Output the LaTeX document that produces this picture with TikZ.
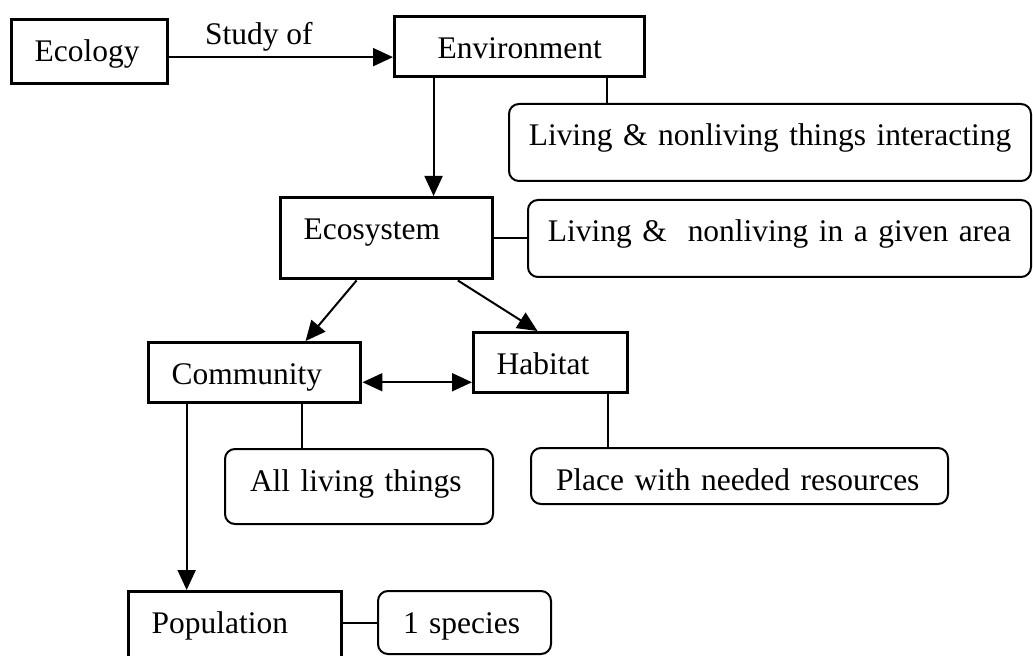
\documentclass[tikz,border=0pt]{standalone}
\usepackage{fontspec}
\setmainfont{Liberation Serif}
\usetikzlibrary{arrows.meta,calc}

\begin{document}
\begin{tikzpicture}[
    x=0.75pt, y=-0.75pt,
    font=\fontsize{23.6}{28}\selectfont,
    concept/.style={draw, line width=2.6pt, anchor=north west, align=left,
        inner xsep=17.25pt, inner ysep=9pt, text height=22.5pt},
    note/.style={draw, line width=1.5pt, rounded corners=7.5pt, anchor=north west,
        align=left, inner xsep=18.75pt, inner ysep=9pt, text height=22.5pt},
    link/.style={-, line width=1.5pt},
    arrow link/.style={link, -{Triangle[length=15pt, width=13.5pt]}},
    both link/.style={link, {Triangle[length=15pt, width=13.5pt]}-{Triangle[length=15pt, width=13.5pt]}},
    link label/.style={inner sep=0pt}
]

\useasboundingbox (0,0) rectangle (1033,656);

% Concepts
\node[concept, text width=82.5pt, text depth=7.5pt] (ecology) at (10,18) {Ecology};
\node[concept, align=center, text width=153pt, text depth=4.5pt] (environment) at (393,15) {Environment};
\node[concept, text width=124.5pt, text depth=20.25pt] (ecosystem) at (279,196) {Ecosystem};
\node[concept, text width=124.5pt, text depth=4.5pt] (community) at (147,341) {Community};
\node[concept, text width=81pt, text depth=4.5pt] (habitat) at (472,331) {Habitat};
\node[concept, text width=125.25pt, text depth=19.5pt] (population) at (127,590) {Population};

% Notes
\node[note, align=center, inner xsep=8pt, text width=375.5pt, text depth=17.25pt] (interacting) at (508,103) {Living \& nonliving things interacting};
\node[note, align=center, inner xsep=8pt, text width=361.25pt, text depth=17.25pt] (givenarea) at (527,199) {Living \&\ \ nonliving in a given area};
\node[note, text width=163.5pt, text depth=15.75pt] (allliving) at (224,448) {All living things};
\node[note, text width=275.25pt, text depth=1.5pt] (place) at (530,447) {Place with needed resources};
\node[note, text width=92.25pt, text depth=6.75pt] (species) at (377,590) {1 species};

% Ecology to Environment
\coordinate (studystart) at ($(ecology.north east)!.58!(ecology.south east)$);
\draw[arrow link] (studystart) -- (studystart -| environment.west)
    node[link label, pos=.4, above=4pt] (studyof) {Study of};

% Environment
\coordinate (envdown) at ($(environment.south west)!.16!(environment.south east)$);
\draw[arrow link] (envdown) -- (envdown |- ecosystem.north);
\coordinate (envnote) at ($(environment.south west)!.844!(environment.south east)$);
\draw[link] (envnote) -- (envnote |- interacting.north);

% Ecosystem
\draw[link] (ecosystem.east) -- (ecosystem.east -| givenarea.west);
\draw[arrow link] ($(ecosystem.south west)!.36!(ecosystem.south east)$) -- ($(community.north west)!.736!(community.north east)$);
\draw[arrow link] ($(ecosystem.south west)!.83!(ecosystem.south east)$) -- ($(habitat.north west)!.416!(habitat.north east)$);

% Community and Habitat
\coordinate (commright) at ($(community.north east)!.65!(community.south east)$);
\draw[both link] (commright) -- (commright -| habitat.west);
\coordinate (commnote) at ($(community.south west)!.72!(community.south east)$);
\draw[link] (commnote) -- (commnote |- allliving.north);
\coordinate (habnote) at ($(habitat.south west)!.864!(habitat.south east)$);
\draw[link] (habnote) -- (habnote |- place.north);

% Population
\coordinate (commdown) at ($(community.south west)!.184!(community.south east)$);
\draw[arrow link] (commdown) -- (commdown |- population.north);
\draw[link] (species.west -| population.east) -- (species.west);

\end{tikzpicture}
\end{document}
